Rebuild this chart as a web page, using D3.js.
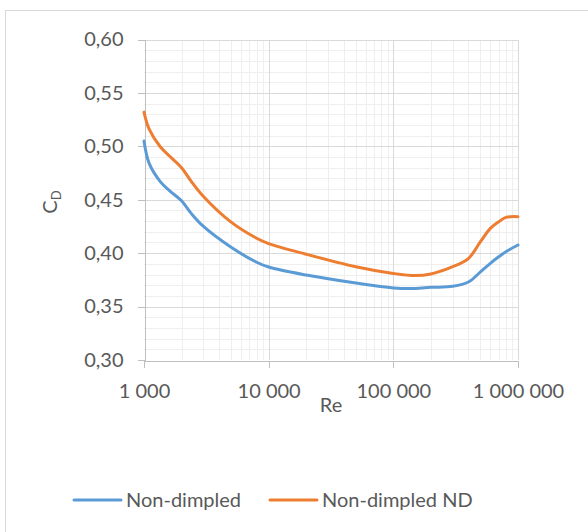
<!DOCTYPE html>
<html>
<head>
<meta charset="utf-8">
<script src="https://d3js.org/d3.v7.min.js"></script>
<style>
  body { margin: 0; background: #fff; }
  text { font-family: Lato, "Open Sans", sans-serif; fill: #595959; }
</style>
</head>
<body>
<svg class="chart" width="588" height="532"></svg>
<script>
// Reynolds numbers
var reynolds = [1000, 1100, 1350, 1600, 2000, 2400, 3000, 5000, 8000, 10000, 20000, 50000,
                100000, 150000, 200000, 300000, 400000, 500000, 600000, 700000, 800000, 1000000];
// drag coefficient, Non-dimpled
var cdPlain = [0.505, 0.484, 0.467, 0.4585, 0.449, 0.437, 0.425, 0.4055, 0.3915, 0.387, 0.3795, 0.372,
               0.3675, 0.367, 0.368, 0.369, 0.373, 0.3825, 0.3905, 0.3966, 0.4013, 0.4076];
// drag coefficient, Non-dimpled ND
var cdND = [0.532, 0.516, 0.4996, 0.491, 0.480, 0.467, 0.453, 0.429, 0.414, 0.409, 0.399, 0.3873,
            0.381, 0.379, 0.3805, 0.3873, 0.395, 0.4107, 0.4232, 0.4294, 0.4335, 0.4341];
var yTicks = [0.30, 0.35, 0.40, 0.45, 0.50, 0.55, 0.60];
var xTicks = [1000, 10000, 100000, 1000000];
var seriesNames = ["Non-dimpled", "Non-dimpled ND"];
var seriesColors = ["#5b9bd5", "#ed7d31"];

var svg = d3.select(".chart");

var plotLeft = 144, plotRight = 518, plotTop = 39.5, plotBottom = 360;

var x = d3.scaleLog().domain([1000, 1000000]).range([plotLeft, plotRight]);
var y = d3.scaleLinear().domain([0.30, 0.60]).range([plotBottom, plotTop]);

// chart frame
svg.append("rect")
    .attr("x", 5.5).attr("y", 10.5)
    .attr("width", 700).attr("height", 700)
    .style("fill", "none")
    .style("stroke", "#d9d9d9");

// minor grid
var minorX = [];
xTicks.slice(0, 3).forEach(function(d) {
  for (var i = 2; i < 10; i++) minorX.push(d * i);
});
var minorY = d3.range(30, 61).map(function(d) { return d / 100; })
    .filter(function(d) { return Math.round(d * 100) % 5 != 0; });

var grid = svg.append("g").style("shape-rendering", "crispEdges");

grid.selectAll(".mx").data(minorX).enter().append("line")
    .attr("x1", function(d) { return Math.round(x(d)) + 0.5; })
    .attr("x2", function(d) { return Math.round(x(d)) + 0.5; })
    .attr("y1", plotTop).attr("y2", plotBottom)
    .style("stroke", "#efefef");

grid.selectAll(".my").data(minorY).enter().append("line")
    .attr("x1", plotLeft).attr("x2", plotRight)
    .attr("y1", function(d) { return Math.round(y(d)) + 0.5; })
    .attr("y2", function(d) { return Math.round(y(d)) + 0.5; })
    .style("stroke", "#efefef");

// major grid
grid.selectAll(".gx").data(xTicks.slice(1)).enter().append("line")
    .attr("x1", function(d) { return Math.round(x(d)) + 0.5; })
    .attr("x2", function(d) { return Math.round(x(d)) + 0.5; })
    .attr("y1", plotTop).attr("y2", plotBottom)
    .style("stroke", "#d9d9d9");

grid.selectAll(".gy").data(yTicks.slice(1)).enter().append("line")
    .attr("x1", plotLeft).attr("x2", plotRight)
    .attr("y1", function(d) { return Math.round(y(d)) + 0.5; })
    .attr("y2", function(d) { return Math.round(y(d)) + 0.5; })
    .style("stroke", "#d9d9d9");

// axes
var yAxis = svg.append("g")
    .attr("transform", "translate(" + (Math.round(plotLeft) + 0.5) + ",0)")
    .call(d3.axisLeft(y).tickValues(yTicks).tickSize(7).tickPadding(14)
      .tickFormat(function(d) { return d3.format(".2f")(d).replace(".", ","); }));

var xAxis = svg.append("g")
    .attr("transform", "translate(0," + (Math.round(plotBottom) + 0.5) + ")")
    .call(d3.axisBottom(x).tickValues(xTicks).tickSize(7).tickPadding(16)
      .tickFormat(function(d) { return d3.format(",")(d).replace(/,/g, " "); }));

[yAxis, xAxis].forEach(function(a) {
  a.select(".domain").style("stroke", "#bfbfbf").style("shape-rendering", "crispEdges");
  a.selectAll(".tick line").style("stroke", "#bfbfbf").style("shape-rendering", "crispEdges");
  a.selectAll("text").style("font-size", "20px").style("fill", "#595959")
    .style("font-family", "Lato, 'Open Sans', sans-serif");
});

// axis titles
svg.append("text")
    .attr("x", 331).attr("y", 412)
    .attr("text-anchor", "middle")
    .style("font-size", "20px")
    .text("Re");

var yTitle = svg.append("text")
    .attr("transform", "translate(57,202) rotate(-90)")
    .attr("text-anchor", "middle")
    .style("font-size", "20px");
yTitle.append("tspan").text("C");
yTitle.append("tspan").attr("dy", 4).style("font-size", "13px").text("D");

// series, smoothed like the spreadsheet does
var line = d3.line()
    .x(function(d) { return x(d[0]); })
    .y(function(d) { return y(d[1]); })
    .curve(d3.curveCatmullRom.alpha(0.5));

[cdPlain, cdND].forEach(function(vals, i) {
  svg.append("path")
      .datum(reynolds.map(function(r, j) { return [r, vals[j]]; }))
      .attr("d", line)
      .style("fill", "none")
      .style("stroke", seriesColors[i])
      .style("stroke-width", 3)
      .style("stroke-linejoin", "round")
      .style("stroke-linecap", "round");
});

// legend
var legendX = [74, 270];
var legend = svg.selectAll(".legend").data(seriesNames).enter().append("g")
    .attr("transform", function(d, i) { return "translate(" + legendX[i] + ",500)"; });

legend.append("line")
    .attr("x1", 0).attr("x2", 47)
    .style("stroke", function(d, i) { return seriesColors[i]; })
    .style("stroke-width", 3)
    .style("stroke-linecap", "round");

legend.append("text")
    .attr("x", 52).attr("dy", "0.35em")
    .style("font-size", "20px")
    .text(function(d) { return d; });
</script>
</body>
</html>
